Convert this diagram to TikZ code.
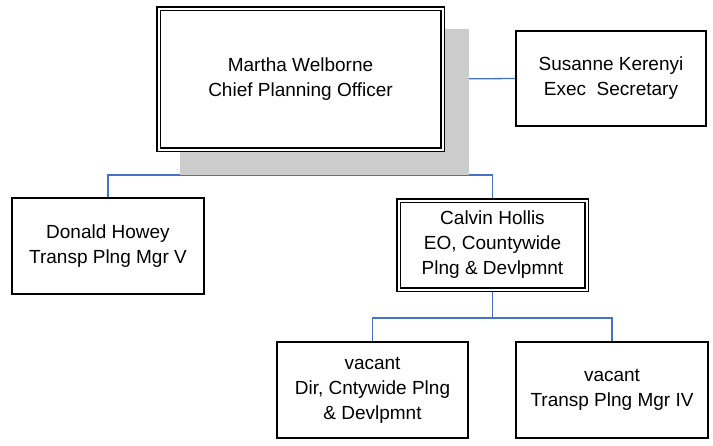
\documentclass[tikz,border=0pt]{standalone}
\usepackage{fontspec}
\setmainfont{Liberation Sans}
\usetikzlibrary{backgrounds,calc}
\definecolor{connblue}{RGB}{68,114,196}
\definecolor{shadowgray}{RGB}{204,204,204}
\begin{document}
\begin{tikzpicture}[x=1pt,y=-1pt,
  txt/.style={font=\fontsize{19}{25}\selectfont, align=center, inner sep=0pt},
  single/.style={txt, draw=black, line width=1.5pt, fill=white},
  dbl/.style={txt, draw=black, fill=white, line width=1.3pt, double=white, double distance=2pt},
  conn/.style={draw=connblue, line width=1.3pt}]
\useasboundingbox (0,0) rectangle (713,445);
\fill[shadowgray] (180,29) rectangle (469,175);
\node[dbl, minimum width=284pt, minimum height=141pt] (m) at (300.5,79) {Martha Welborne\\Chief Planning Officer};
\node[single, minimum width=190pt, minimum height=95pt] (s) at (611,78.5) {Susanne Kerenyi\\Exec\ \ Secretary};
\node[single, minimum width=192pt, minimum height=96pt] (d) at (108,246) {Donald Howey\\Transp Plng Mgr V};
\node[dbl, minimum width=188pt, minimum height=89pt] (c) at (492.5,245) {Calvin Hollis\\EO, Countywide\\Plng \& Devlpmnt};
\node[single, minimum width=191pt, minimum height=96pt] (v1) at (372.5,390) {vacant\\Dir, Cntywide Plng\\\& Devlpmnt};
\node[single, minimum width=192pt, minimum height=96pt] (v2) at (612,390) {vacant\\Transp Plng Mgr IV};
\coordinate (j1) at (301,175);
\coordinate (j2) at (492,318);
\begin{scope}[on background layer]
\draw[conn] (m.south) -- (m.south|-j1);
\draw[conn] (m.south|-j1) -| (d.north);
\draw[conn] (m.south|-j1) -| (c.north);
\draw[conn] (m.east) -- (s.west);
\draw[conn] (c.south) -- (c.south|-j2);
\draw[conn] (c.south|-j2) -| (v1.north);
\draw[conn] (c.south|-j2) -| (v2.north);
\end{scope}
\end{tikzpicture}
\end{document}
